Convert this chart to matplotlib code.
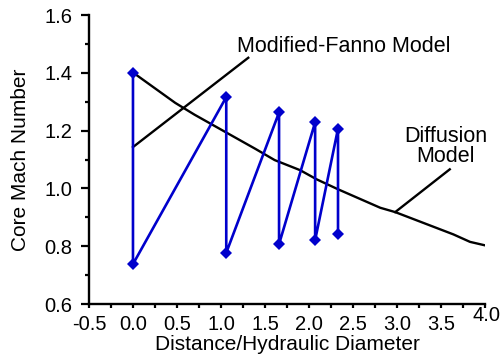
import matplotlib
matplotlib.use("Agg")
from matplotlib import pyplot as plt
from matplotlib.ticker import MultipleLocator, FormatStrFormatter

plt.rcParams['font.family'] = ['Liberation Sans', 'DejaVu Sans']

# modified-Fanno model: alternating shock train points
fanno_x = [0.0, 0.0, 1.06, 1.06, 1.66, 1.66, 2.07, 2.07, 2.33, 2.33]
fanno_y = [1.40, 0.738, 1.316, 0.777, 1.263, 0.807, 1.229, 0.821, 1.207, 0.841]

# diffusion model curve
diff_x = [0.0, 0.48, 0.70, 1.39, 1.61, 1.90, 2.09, 2.33, 2.81, 2.98, 3.64, 3.83, 4.0]
diff_y = [1.401, 1.296, 1.255, 1.137, 1.098, 1.063, 1.031, 0.997, 0.933, 0.918, 0.841, 0.815, 0.803]

x_ticks = [-0.5, 0.0, 0.5, 1.0, 1.5, 2.0, 2.5, 3.0, 3.5, 4.0]

fig = plt.figure(figsize=(5.01, 3.59), dpi=100)
ax = fig.add_axes([0.1776, 0.1532, 0.7904, 0.805])

ax.plot(diff_x, diff_y, color='black', lw=1.7, zorder=2)
ax.plot(fanno_x, fanno_y, color='#0000cc', lw=1.9, marker='D', ms=6.5,
        markeredgewidth=0, zorder=3)

# label leaders
ax.plot([0.0, 1.31], [1.143, 1.452], color='black', lw=1.7)
ax.plot([2.98, 3.60], [0.918, 1.066], color='black', lw=1.7)
ax.text(2.40, 1.49, 'Modified-Fanno Model', fontsize=15.5, ha='center', va='center')
ax.text(3.55, 1.145, 'Diffusion\nModel', fontsize=15.5, ha='center', va='center',
        linespacing=0.9)

ax.set_xlim(-0.5, 4.0)
ax.set_ylim(0.6, 1.6)
ax.set_xticks(x_ticks)
ax.set_xticklabels(['%.1f' % v for v in x_ticks[:-1]] + [''])
ax.xaxis.set_minor_locator(MultipleLocator(0.25))
ax.yaxis.set_major_locator(MultipleLocator(0.2))
ax.yaxis.set_minor_locator(MultipleLocator(0.1))
ax.yaxis.set_major_formatter(FormatStrFormatter('%.1f'))

# last x tick label sits a little higher, over the axis end
ax.annotate('%.1f' % x_ticks[-1], xy=(x_ticks[-1], 0), xycoords=('data', 'axes fraction'),
            xytext=(1, -1.5), textcoords='offset points', ha='center', va='top',
            fontsize=14.5)

for s in ['top', 'right']:
    ax.spines[s].set_visible(False)
for s in ['left', 'bottom']:
    ax.spines[s].set_linewidth(1.7)

ax.tick_params(axis='both', which='major', direction='out', width=1.6,
               labelsize=14.5)
ax.tick_params(axis='y', which='major', length=6, pad=6)
ax.tick_params(axis='x', which='major', length=3, pad=5)
ax.tick_params(axis='both', which='minor', direction='out', width=1.6, length=3)

ax.set_xlabel('Distance/Hydraulic Diameter', fontsize=15, labelpad=0.5)
ax.set_ylabel('Core Mach Number', fontsize=15, labelpad=10)

fig.savefig('out.png', dpi=100)
